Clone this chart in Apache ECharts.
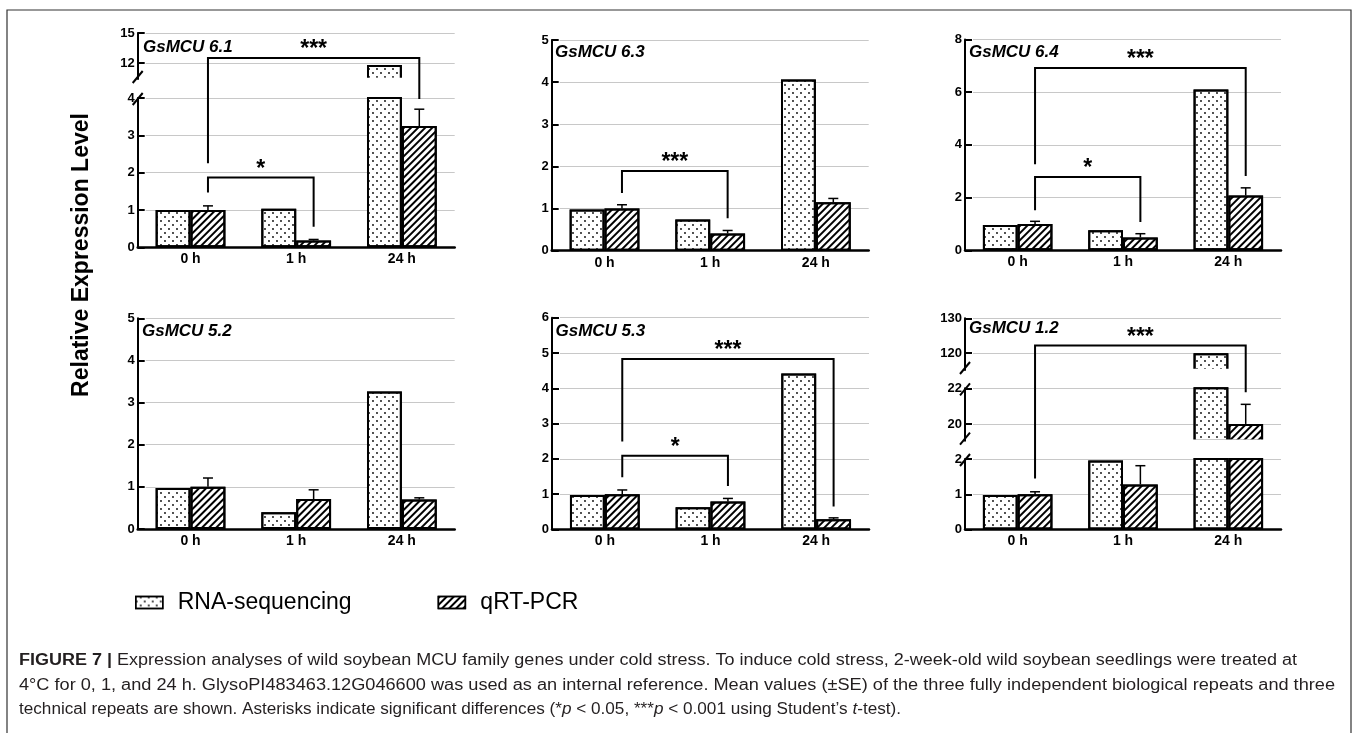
<!DOCTYPE html>
<html>
<head>
<meta charset="utf-8">
<script src="https://cdn.jsdelivr.net/npm/echarts@6/dist/echarts.min.js"></script>
<style>
html,body{margin:0;padding:0;background:#fff;}
#c{width:1358px;height:733px;}
</style>
</head>
<body>
<div id="c"></div>
<script>
// ---------------- DATA ----------------
const categories = ['0 h', '1 h', '24 h'];
const seriesNames = ['RNA-sequencing', 'qRT-PCR'];
const genes = ['GsMCU 6.1', 'GsMCU 6.3', 'GsMCU 6.4', 'GsMCU 5.2', 'GsMCU 5.3', 'GsMCU 1.2'];

const gene61_rna = [1.0, 1.03, 11.8];
const gene61_qrt = [1.0, 0.18, 3.25];
const gene61_err = [0.11, 0.03, 0.45];
const gene63_rna = [0.98, 0.74, 4.06];
const gene63_qrt = [1.0, 0.41, 1.15];
const gene63_err = [0.09, 0.07, 0.09];
const gene64_rna = [0.96, 0.76, 6.1];
const gene64_qrt = [1.0, 0.49, 2.08];
const gene64_err = [0.1, 0.14, 0.29];
const gene52_rna = [0.97, 0.40, 3.26];
const gene52_qrt = [1.0, 0.71, 0.70];
const gene52_err = [0.21, 0.22, 0.04];
const gene53_rna = [0.98, 0.63, 4.42];
const gene53_qrt = [1.0, 0.79, 0.29];
const gene53_err = [0.12, 0.09, 0.04];
const gene12_rna = [0.98, 1.96, 120];
const gene12_qrt = [1.0, 1.28, 20.0];
const gene12_err = [0.07, 0.53, 1.1];

// axis segments (broken axes) and tick labels
const range61 = [[0, 4], [10.4, 15]];
const ticks61 = [[0, 1, 2, 3, 4], [12, 15]];
const range63 = [[0, 5]];
const ticks63 = [[0, 1, 2, 3, 4, 5]];
const range64 = [[0, 8]];
const ticks64 = [[0, 2, 4, 6, 8]];
const range52 = [[0, 5]];
const ticks52 = [[0, 1, 2, 3, 4, 5]];
const range53 = [[0, 6]];
const ticks53 = [[0, 1, 2, 3, 4, 5, 6]];
const range12 = [[0, 2], [19.06, 22], [115.2, 130]];
const ticks12 = [[0, 1, 2], [20, 22], [120, 130]];

// significance brackets: [value, segment]
const sig61 = [
  {label: '*', from: 0, to: 1, top: [1.87, 0], left: [1.47, 0], right: [0.55, 0]},
  {label: '***', from: 0, to: 2, top: [12.5, 1], left: [2.25, 0], right: [3.97, 0]}
];
const sig63 = [
  {label: '***', from: 0, to: 1, top: [1.89, 0], left: [1.37, 0], right: [0.77, 0]}
];
const sig64 = [
  {label: '*', from: 0, to: 1, top: [2.78, 0], left: [1.52, 0], right: [1.07, 0]},
  {label: '***', from: 0, to: 2, top: [6.92, 0], left: [3.27, 0], right: [2.82, 0]}
];
const sig52 = [];
const sig53 = [
  {label: '*', from: 0, to: 1, top: [2.09, 0], left: [1.48, 0], right: [1.23, 0]},
  {label: '***', from: 0, to: 2, top: [4.83, 0], left: [2.49, 0], right: [0.65, 0]}
];
const sig12 = [
  {label: '***', from: 0, to: 2, top: [122.2, 2], left: [1.45, 0], right: [21.78, 1]}
];

const yTitle = 'Relative Expression Level';
const captionLines = [
  [{t: 'FIGURE 7 |', b: 1}, {t: ' Expression analyses of wild soybean MCU family genes under cold stress. To induce cold stress, 2-week-old wild soybean seedlings were treated at'}],
  [{t: '4°C for 0, 1, and 24 h. GlysoPI483463.12G046600 was used as an internal reference. Mean values (±SE) of the three fully independent biological repeats and three'}],
  [{t: 'technical repeats are shown. Asterisks indicate significant differences (*'}, {t: 'p', i: 1}, {t: ' < 0.05, ***'}, {t: 'p', i: 1}, {t: ' < 0.001 using Student\u2019s '}, {t: 't', i: 1}, {t: '-test).'}]
];

const panels = [
  {gene: genes[0], rna: gene61_rna, qrt: gene61_qrt, err: gene61_err, ranges: range61, ticks: ticks61, sig: sig61},
  {gene: genes[1], rna: gene63_rna, qrt: gene63_qrt, err: gene63_err, ranges: range63, ticks: ticks63, sig: sig63},
  {gene: genes[2], rna: gene64_rna, qrt: gene64_qrt, err: gene64_err, ranges: range64, ticks: ticks64, sig: sig64},
  {gene: genes[3], rna: gene52_rna, qrt: gene52_qrt, err: gene52_err, ranges: range52, ticks: ticks52, sig: sig52},
  {gene: genes[4], rna: gene53_rna, qrt: gene53_qrt, err: gene53_err, ranges: range53, ticks: ticks53, sig: sig53},
  {gene: genes[5], rna: gene12_rna, qrt: gene12_qrt, err: gene12_err, ranges: range12, ticks: ticks12, sig: sig12}
];

// ---------------- LAYOUT ----------------
const layout = [
  {left: 137.7, width: 317, segs: [{top: 98, bottom: 247.3}, {top: 33, bottom: 79}], title: {left: 143, top: 39}},
  {left: 551.7, width: 317, segs: [{top: 40, bottom: 250.7}], title: {left: 555, top: 44}},
  {left: 965, width: 316, segs: [{top: 39.5, bottom: 250.3}], title: {left: 969, top: 44}},
  {left: 137.7, width: 317, segs: [{top: 318.3, bottom: 529}], title: {left: 142, top: 323}},
  {left: 552, width: 317, segs: [{top: 317.7, bottom: 529.5}], title: {left: 555.5, top: 323}},
  {left: 965, width: 316, segs: [{top: 459, bottom: 529.5}, {top: 388.3, bottom: 440.7}, {top: 318.3, bottom: 370}], title: {left: 969, top: 320}}
];
const captionX = 19;
const captionRight = [1297, 1335, 901];
const captionY = [661, 685.5, 710];

const FONT = '"Liberation Sans", Arial, Helvetica, sans-serif';
const BAR_RATIO = 0.33;
const dotDecal = {symbol: 'circle', symbolSize: 0.9, symbolKeepAspect: true, color: '#000',
  dashArrayX: [[2, 6], [0, 4, 2, 2]], dashArrayY: [2, 2], rotation: 0};
const hatchDecal = {symbol: 'rect', symbolSize: 1, color: '#000',
  dashArrayX: [1, 0], dashArrayY: [2, 3], rotation: -Math.PI / 4};

const chart = echarts.init(document.getElementById('c'), null, {renderer: 'canvas'});

const grids = [], xAxes = [], yAxes = [], series = [], titles = [];
const gridIdx = [];

panels.forEach((p, pi) => {
  const L = layout[pi];
  gridIdx[pi] = [];
  titles.push({text: p.gene, left: L.title.left, top: L.title.top, padding: 0,
    textStyle: {fontSize: 17, fontStyle: 'italic', fontWeight: 'bold', color: '#000', fontFamily: FONT}});
  p.ranges.forEach((rg, si) => {
    const gi = grids.length;
    gridIdx[pi][si] = gi;
    const S = L.segs[si];
    grids.push({left: L.left, top: S.top, width: L.width, height: S.bottom - S.top,
      containLabel: false, outerBoundsMode: 'none'});
    xAxes.push({type: 'category', gridIndex: gi, data: categories, show: si === 0,
      axisLine: {show: true, onZero: false, lineStyle: {color: '#000', width: 2.5}},
      axisTick: {show: false},
      axisLabel: {show: true, color: '#000', fontWeight: 'bold', fontSize: 14, fontFamily: FONT, margin: 5},
      splitLine: {show: false}});
    yAxes.push({type: 'value', gridIndex: gi, min: rg[0], max: rg[1],
      axisLine: {show: true, lineStyle: {color: '#000', width: 2}},
      axisTick: {show: true, inside: true, length: 7, customValues: p.ticks[si], lineStyle: {color: '#000', width: 2}},
      axisLabel: {show: true, customValues: p.ticks[si], color: '#000', fontWeight: 'bold', fontSize: 13, fontFamily: FONT, margin: 3},
      splitLine: {show: true, lineStyle: {color: '#c8c8c8', width: 1, type: [0, 8, 4000, 0]}}});
    series.push({type: 'bar', name: seriesNames[0], xAxisIndex: gi, yAxisIndex: gi, data: p.rna,
      barWidth: (BAR_RATIO * 100) + '%', barGap: '0%', clip: true, silent: true, animation: false,
      itemStyle: {color: '#fff', borderColor: '#000', borderWidth: 2, decal: dotDecal}});
    series.push({type: 'bar', name: seriesNames[1], xAxisIndex: gi, yAxisIndex: gi, data: p.qrt,
      barWidth: (BAR_RATIO * 100) + '%', barGap: '0%', clip: true, silent: true, animation: false,
      itemStyle: {color: '#fff', borderColor: '#000', borderWidth: 2, decal: hatchDecal}});
    const errData = [];
    p.qrt.forEach((v, i) => { if (v >= rg[0] && v <= rg[1]) errData.push([i, v, v + p.err[i]]); });
    series.push({type: 'custom', name: 'error', xAxisIndex: gi, yAxisIndex: gi, data: errData,
      encode: {x: 0, y: [1, 2]}, silent: true, animation: false, z: 3,
      renderItem: function (params, api) {
        const c = api.value(0);
        const base = api.coord([c, api.value(1)]);
        const top = api.coord([c, api.value(2)]);
        const band = api.size([1, 0])[0];
        const x = base[0] + band * BAR_RATIO / 2;
        return {type: 'group', children: [
          {type: 'line', shape: {x1: x, y1: base[1], x2: x, y2: top[1]}, style: {stroke: '#000', lineWidth: 1.5}},
          {type: 'line', shape: {x1: x - 5, y1: top[1], x2: x + 5, y2: top[1]}, style: {stroke: '#000', lineWidth: 1.5}}
        ]};
      }});
  });
});

const option = {
  animation: false,
  backgroundColor: '#fff',
  textStyle: {fontFamily: FONT},
  title: titles,
  grid: grids,
  xAxis: xAxes,
  yAxis: yAxes,
  series: series,
  legend: {data: seriesNames, left: 135, top: 591, padding: 0, itemWidth: 27, itemHeight: 12, itemGap: 86,
    icon: 'rect', selectedMode: false,
    itemStyle: {borderColor: '#000', borderWidth: 1.5},
    textStyle: {fontSize: 23, color: '#000', fontFamily: FONT, padding: [0, 0, 0, 10]}}
};
chart.setOption(option);

// ---------- annotations computed through the chart's scales ----------
function pt(pi, si, cat, val) {
  return chart.convertToPixel({gridIndex: gridIdx[pi][si]}, [cat, val]);
}
const graphics = [];
graphics.push({type: 'rect', silent: true, shape: {x: 7, y: 10, width: 1344, height: 740},
  style: {fill: 'none', stroke: '#333', lineWidth: 1.2}});
graphics.push({type: 'text', silent: true, x: 82, y: 255, rotation: Math.PI / 2,
  style: {text: yTitle, font: 'bold 23px ' + FONT, fill: '#000', align: 'center', verticalAlign: 'middle'}});

panels.forEach((p, pi) => {
  const L = layout[pi];
  if (p.ranges.length > 1) {
    p.ranges.forEach((rg, si) => {
      const S = L.segs[si];
      const ys = [];
      if (si > 0) {
        ys.push(S.bottom - 2);
        // open the clipped bar ends at the break (no border at the cut)
        graphics.push({type: 'rect', silent: true, z: 50,
          shape: {x: L.left + 3, y: S.bottom - 1.2, width: L.width - 3, height: 2.8},
          style: {fill: '#fff', stroke: 'none'}});
      }
      if (si < p.ranges.length - 1) ys.push(S.top + 1);
      ys.forEach(y => graphics.push({type: 'line', silent: true, z: 60,
        shape: {x1: L.left - 5, y1: y + 6, x2: L.left + 5, y2: y - 6}, style: {stroke: '#000', lineWidth: 2}}));
    });
  }
  p.sig.forEach(s => {
    const c0 = pt(pi, 0, 0, 0), c1 = pt(pi, 0, 1, 0);
    const band = c1[0] - c0[0];
    const off = band * BAR_RATIO / 2;
    const xL = pt(pi, s.left[1], s.from, s.left[0])[0] + off;
    const xR = pt(pi, s.right[1], s.to, s.right[0])[0] + off;
    const yL = pt(pi, s.left[1], s.from, s.left[0])[1];
    const yR = pt(pi, s.right[1], s.to, s.right[0])[1];
    const yT = pt(pi, s.top[1], s.from, s.top[0])[1];
    graphics.push({type: 'polyline', silent: true, z: 60, shape: {points: [[xL, yL], [xL, yT], [xR, yT], [xR, yR]]},
      style: {stroke: '#000', lineWidth: 2, fill: 'none'}});
    graphics.push({type: 'text', silent: true, z: 60, x: (xL + xR) / 2, y: yT - 8,
      style: {text: s.label, font: 'bold 23px ' + FONT, fill: '#000', align: 'center', verticalAlign: 'middle'}});
  });
});

// caption
const CAP_FS = 16;
const mctx = document.createElement('canvas').getContext('2d');
function partFont(part) {
  return (part.i ? 'italic ' : 'normal ') + (part.b ? 'bold ' : 'normal ') + CAP_FS + 'px ' + FONT;
}
function measure(parts) {
  return parts.reduce((w, part) => { mctx.font = partFont(part); return w + mctx.measureText(part.t).width; }, 0);
}
const richStyles = {
  r: {fontSize: CAP_FS, fontFamily: FONT, fill: '#231f20'},
  b: {fontSize: CAP_FS, fontFamily: FONT, fontWeight: 'bold', fill: '#231f20'},
  i: {fontSize: CAP_FS, fontFamily: FONT, fontStyle: 'italic', fill: '#231f20'}
};
captionLines.forEach((parts, li) => {
  const txt = parts.map(part => '{' + (part.b ? 'b' : part.i ? 'i' : 'r') + '|' + part.t + '}').join('');
  const sc = (captionRight[li] - captionX) / measure(parts);
  graphics.push({type: 'text', silent: true, x: captionX, y: captionY[li], scaleX: sc,
    style: {text: txt, rich: richStyles, fontSize: CAP_FS, fontFamily: FONT, fill: '#231f20', align: 'left', verticalAlign: 'middle'}});
});

chart.setOption({graphic: graphics});
</script>
</body>
</html>
